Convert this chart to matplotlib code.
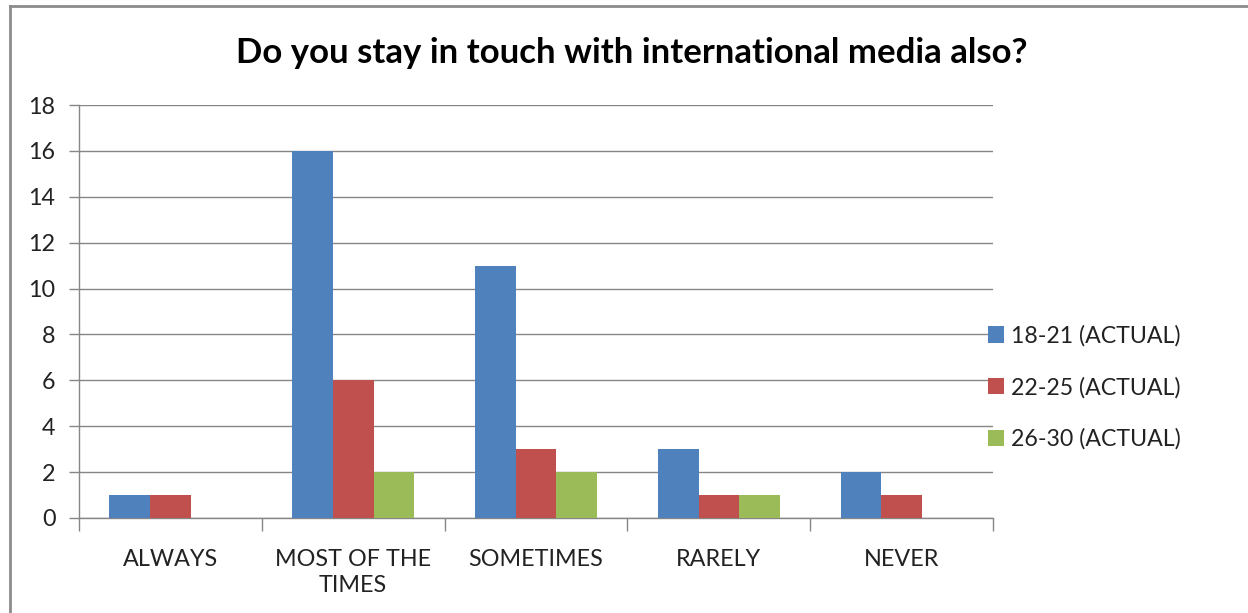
import matplotlib
matplotlib.use("Agg")
import matplotlib.pyplot as plt
from matplotlib.lines import Line2D
from matplotlib.patches import Patch
import numpy as np

plt.rcParams['font.family'] = ['Lato', 'DejaVu Sans']

categories = ["ALWAYS", "MOST OF THE\nTIMES", "SOMETIMES", "RARELY", "NEVER"]
series_names = ["18-21 (ACTUAL)", "22-25 (ACTUAL)", "26-30 (ACTUAL)"]
age_18_21 = [1, 16, 11, 3, 2]
age_22_25 = [1, 6, 3, 1, 1]
age_26_30 = [0, 2, 2, 1, 0]
colors = ["#4F81BD", "#C0504D", "#9BBB59"]

fig = plt.figure(figsize=(12.48, 6.13), dpi=100)
ax = fig.add_axes([0.0633, 0.155, 0.7324, 0.6737])

x = np.arange(len(categories))
bar_w = 1 / 4.5
handles = []
for i, (vals, name, c) in enumerate(zip([age_18_21, age_22_25, age_26_30], series_names, colors)):
    ax.bar(x + (i - 1) * bar_w, vals, width=bar_w, color=c, zorder=3, linewidth=0)
    handles.append(Patch(facecolor=c, edgecolor='none', label=name))

ax.set_xlim(-0.5, len(categories) - 0.5)
ax.set_ylim(0, 18)
ax.set_yticks(range(0, 19, 2))
ax.yaxis.grid(True, color='#868686', linewidth=1, zorder=0)
ax.set_axisbelow(True)

ax.set_xticks(x)
ax.set_xticklabels(categories, fontsize=16.8, color='#222222', linespacing=1.3)
ax.set_xticks(np.arange(-0.5, len(categories), 1), minor=True)
ax.tick_params(axis='x', which='major', length=0, pad=22)
ax.tick_params(axis='x', which='minor', length=9, width=1, color='#868686')
ax.tick_params(axis='y', length=7, width=1, color='#868686', labelsize=16.8,
               labelcolor='#222222', pad=10)

for s in ['top', 'right']:
    ax.spines[s].set_visible(False)
for s in ['left', 'bottom']:
    ax.spines[s].set_color('#868686')
    ax.spines[s].set_linewidth(1)

fig.text(0.506, 0.913, "Do you stay in touch with international media also?",
         ha='center', va='center', fontsize=25, fontweight='bold', color='black')

fig.legend(handles=handles, loc='center left', bbox_to_anchor=(0.775, 0.368),
           frameon=False, fontsize=16.7, handlelength=0.7, handleheight=0.7,
           handletextpad=0.3, labelspacing=1.3, labelcolor='#222222')

# chart frame
fig.add_artist(Line2D([10 / 1248, 10 / 1248], [0, 1 - 6 / 613], transform=fig.transFigure,
                      color='#8c8c8c', linewidth=2))
fig.add_artist(Line2D([10 / 1248, 1], [1 - 6 / 613, 1 - 6 / 613], transform=fig.transFigure,
                      color='#8c8c8c', linewidth=2))

fig.savefig("out.png", dpi=100, facecolor='white')
